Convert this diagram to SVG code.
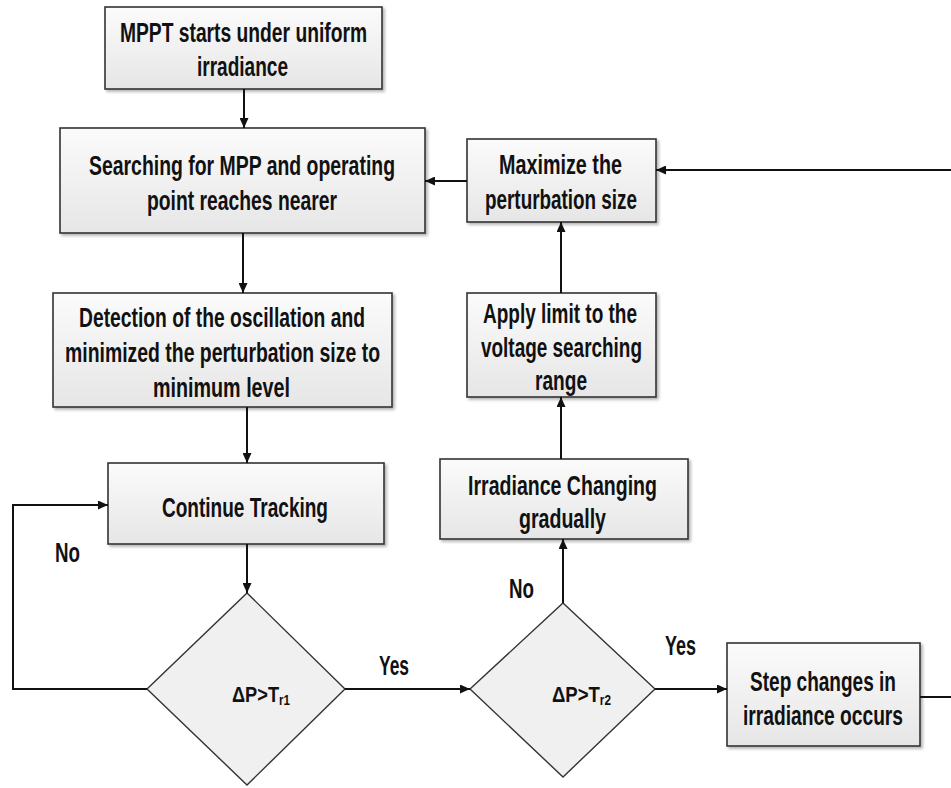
<svg xmlns="http://www.w3.org/2000/svg" width="951" height="788" viewBox="0 0 951 788">
<defs>
<linearGradient id="g" x1="0" y1="0" x2="0" y2="1">
<stop offset="0" stop-color="#fbfbfb"/>
<stop offset="1" stop-color="#e6e6e6"/>
</linearGradient>
<filter id="sh" x="-5%" y="-5%" width="115%" height="120%">
<feDropShadow dx="2" dy="2" stdDeviation="1.5" flood-color="#000" flood-opacity="0.3"/>
</filter>
<marker id="ah" markerUnits="userSpaceOnUse" markerWidth="11" markerHeight="9" refX="10" refY="4.5" orient="auto">
<path d="M0,0 L10,4.5 L0,9 z" fill="#111"/>
</marker>
</defs>
<style>
.box{fill:url(#g);stroke:#333;stroke-width:1.6;filter:url(#sh)}
.dia{fill:#f0f0f0;stroke:#333;stroke-width:1.4}
text{font-family:"Liberation Sans Narrow","Liberation Sans",Arial,sans-serif;font-weight:bold;font-size:27px;fill:#111;text-anchor:middle}
.sm{font-size:22px}
.sub{font-size:14px}
.c{fill:none;stroke:#111;stroke-width:2}
.a{marker-end:url(#ah)}
</style>
<rect width="951" height="788" fill="#fff"/>

<g id="n1">
<rect class="box" x="105" y="7" width="277" height="82"/>
<text x="243.5" y="42" textLength="247" lengthAdjust="spacingAndGlyphs">MPPT starts under uniform</text>
<text x="242.5" y="76" textLength="91" lengthAdjust="spacingAndGlyphs">irradiance</text>
</g>

<g id="n2">
<rect class="box" x="60" y="128" width="365" height="105"/>
<text x="242" y="175" textLength="306" lengthAdjust="spacingAndGlyphs">Searching for MPP and operating</text>
<text x="242" y="210" textLength="190" lengthAdjust="spacingAndGlyphs">point reaches nearer</text>
</g>

<g id="n3">
<rect class="box" x="53" y="293" width="339" height="114"/>
<text x="222" y="327" textLength="286" lengthAdjust="spacingAndGlyphs">Detection of the oscillation and</text>
<text x="222.5" y="362" textLength="315" lengthAdjust="spacingAndGlyphs">minimized the perturbation size to</text>
<text x="221.5" y="397" textLength="137" lengthAdjust="spacingAndGlyphs">minimum level</text>
</g>

<g id="n4">
<rect class="box" x="108" y="463" width="276" height="81"/>
<text x="245" y="517" textLength="166" lengthAdjust="spacingAndGlyphs">Continue Tracking</text>
</g>

<g id="d1">
<polygon class="dia" points="247,593 345,689 247,785 147,689"/>
<text class="sm" x="261" y="702" textLength="58" lengthAdjust="spacingAndGlyphs">ΔP&gt;T<tspan class="sub" dy="3">r1</tspan></text>
</g>

<g id="d2">
<polygon class="dia" points="563,603 655,689 563,777 470,689"/>
<text class="sm" x="581.5" y="702" textLength="59" lengthAdjust="spacingAndGlyphs">ΔP&gt;T<tspan class="sub" dy="3">r2</tspan></text>
</g>

<g id="n5">
<rect class="box" x="440" y="459" width="248" height="80"/>
<text x="562.5" y="495" textLength="189" lengthAdjust="spacingAndGlyphs">Irradiance Changing</text>
<text x="562.5" y="528" textLength="87" lengthAdjust="spacingAndGlyphs">gradually</text>
</g>

<g id="n6">
<rect class="box" x="467" y="293" width="189" height="104"/>
<text x="560" y="323" textLength="154" lengthAdjust="spacingAndGlyphs">Apply limit to the</text>
<text x="561.5" y="357" textLength="161" lengthAdjust="spacingAndGlyphs">voltage searching</text>
<text x="561" y="390" textLength="52" lengthAdjust="spacingAndGlyphs">range</text>
</g>

<g id="n7">
<rect class="box" x="467" y="139" width="189" height="83"/>
<text x="560.5" y="174" textLength="123" lengthAdjust="spacingAndGlyphs">Maximize the</text>
<text x="561" y="209" textLength="152" lengthAdjust="spacingAndGlyphs">perturbation size</text>
</g>

<g id="n8">
<rect class="box" x="727" y="643" width="193" height="103"/>
<text x="823" y="691" textLength="146" lengthAdjust="spacingAndGlyphs">Step changes in</text>
<text x="823" y="725" textLength="160" lengthAdjust="spacingAndGlyphs">irradiance occurs</text>
</g>

<g id="connectors">
<path class="c a" d="M244,89 V128"/>
<path class="c a" d="M243,233 V293"/>
<path class="c a" d="M247,407 V463"/>
<path class="c a" d="M247,544 V593"/>
<path class="c a" d="M147,689 H13 V505 H108"/>
<path class="c a" d="M345,689 H470"/>
<path class="c a" d="M563,603 V539"/>
<path class="c a" d="M561,459 V397"/>
<path class="c a" d="M561,293 V222"/>
<path class="c a" d="M467,181 H425"/>
<path class="c a" d="M951,170 H656"/>
<path class="c a" d="M655,689 H727"/>
<path class="c" d="M920,697 H951"/>
</g>

<g id="labels">
<text x="67.5" y="562" textLength="25" lengthAdjust="spacingAndGlyphs">No</text>
<text x="394" y="675" textLength="30" lengthAdjust="spacingAndGlyphs">Yes</text>
<text x="521.5" y="598" textLength="25" lengthAdjust="spacingAndGlyphs">No</text>
<text x="680.5" y="655" textLength="31" lengthAdjust="spacingAndGlyphs">Yes</text>
</g>
</svg>
